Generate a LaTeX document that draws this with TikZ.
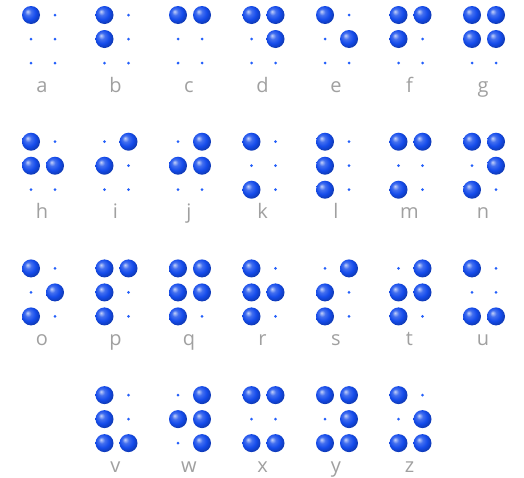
\documentclass[tikz,border=0pt]{standalone}
\usepackage{fontspec}
\setmainfont{Open Sans}
\usepackage{xcolor}
\usepackage{tikz}
\definecolor{ballblue}{RGB}{20,75,235}
\definecolor{dotblue}{RGB}{35,95,250}
\definecolor{lettergray}{RGB}{160,160,160}
\pgfdeclareradialshading{braille}{\pgfqpoint{-10bp}{10bp}}{%
  color(0bp)=(ballblue!25!white); color(9bp)=(ballblue!80!white);
  color(19bp)=(ballblue); color(27bp)=(ballblue!80!black);
  color(50bp)=(ballblue!45!black)}

\begin{document}
\begin{tikzpicture}[
    x=1pt, y=-1pt,
    raised/.style={circle, inner sep=0pt, minimum size=18pt, shading=braille},
    flat/.style={circle, inner sep=0pt, minimum size=3pt, fill=dotblue},
    letter/.style={anchor=base, text=lettergray, font=\fontsize{20}{24}\selectfont},
  ]
  \useasboundingbox (0,0) rectangle (524,477);
  % letter / cell column / cell row / raised dots / flat dots
  \foreach \ch/\col/\row/\up/\down in {
      a/0/0/{1}/{2,3,4,5,6}, b/1/0/{1,2}/{3,4,5,6}, c/2/0/{1,4}/{2,3,5,6},
      d/3/0/{1,4,5}/{2,3,6}, e/4/0/{1,5}/{2,3,4,6}, f/5/0/{1,2,4}/{3,5,6},
      g/6/0/{1,2,4,5}/{3,6},
      h/0/1/{1,2,5}/{3,4,6}, i/1/1/{2,4}/{1,3,5,6}, j/2/1/{2,4,5}/{1,3,6},
      k/3/1/{1,3}/{2,4,5,6}, l/4/1/{1,2,3}/{4,5,6}, m/5/1/{1,3,4}/{2,5,6},
      n/6/1/{1,3,4,5}/{2,6},
      o/0/2/{1,3,5}/{2,4,6}, p/1/2/{1,2,3,4}/{5,6}, q/2/2/{1,2,3,4,5}/{6},
      r/3/2/{1,2,3,5}/{4,6}, s/4/2/{2,3,4}/{1,5,6}, t/5/2/{2,3,4,5}/{1,6},
      u/6/2/{1,3,6}/{2,4,5},
      v/1/3/{1,2,3,6}/{4,5}, w/2/3/{2,4,5,6}/{1,3}, x/3/3/{1,3,4,6}/{2,5},
      y/4/3/{1,3,4,5,6}/{2}, z/5/3/{1,3,5,6}/{2,4}} {
    \pgfmathsetmacro\cx{31+73.5*\col}
    \pgfmathsetmacro\cy{15+126.7*\row}
    \foreach \k in \up {
      \pgfmathtruncatemacro\side{\k>3}
      \pgfmathtruncatemacro\line{mod(\k-1,3)}
      \node[raised] (\ch\k) at (\cx+24*\side, \cy+24*\line) {};
    }
    \foreach \k in \down {
      \pgfmathtruncatemacro\side{\k>3}
      \pgfmathtruncatemacro\line{mod(\k-1,3)}
      \node[flat] (\ch\k) at (\cx+24*\side, \cy+24*\line) {};
    }
    \node[letter] (lbl-\ch) at (\cx+11, \cy+77) {\ch};
  }
\end{tikzpicture}
\end{document}
